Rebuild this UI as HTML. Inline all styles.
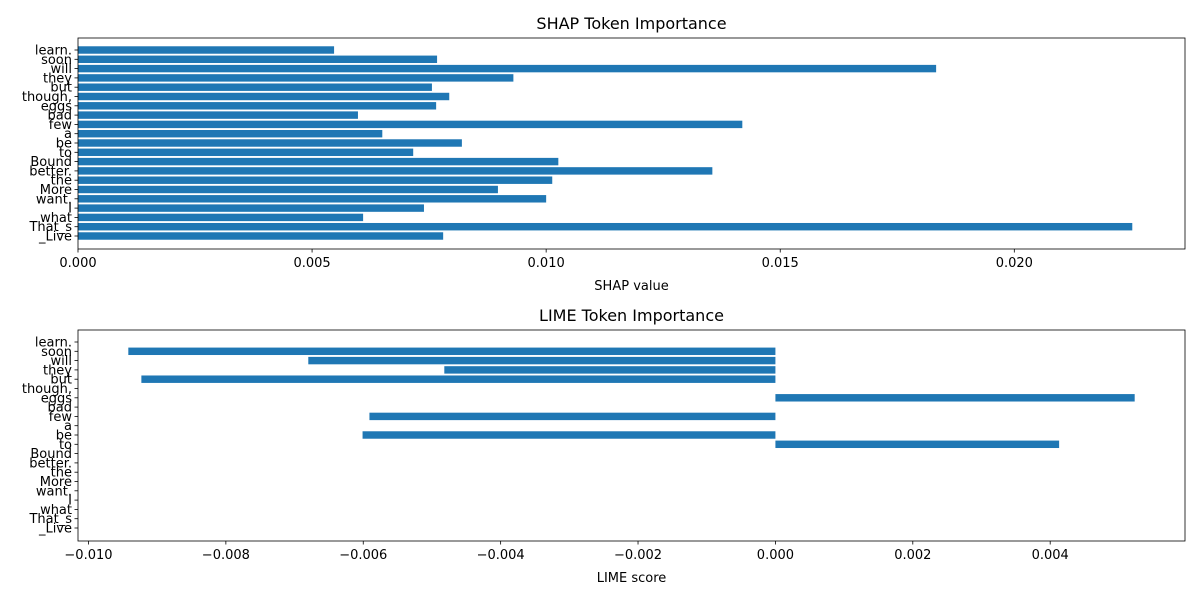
<!DOCTYPE html>
<html><head><meta charset="utf-8"><style>body{margin:0;background:#fff}svg{display:block;font-family:"DejaVu Sans","Liberation Sans",sans-serif}</style></head>
<body>
<svg id="c" width="1200" height="600"></svg>
<script>
const tokens=["learn.","soon","will","they","but","though,","eggs","bad","few","a","be","to","Bound","better.","the","More","want.","I","what","That_s","_Live"];
const shapValues=[0.00547,0.00767,0.01833,0.0093,0.00756,0.00793,0.00765,0.00598,0.01419,0.0065,0.0082,0.00716,0.01026,0.01355,0.01013,0.00897,0.0100,0.00739,0.00609,0.02252,0.0078];
const limeValues=[0,-0.00942,-0.0068,-0.00482,-0.00923,0,0.00523,0,-0.00591,0,-0.00601,0.00413,0,0,0,0,0,0,0,0,0];
const shapTicks=[0,0.005,0.010,0.015,0.020];
const shapTickLabels=["0.000","0.005","0.010","0.015","0.020"];
const limeTicks=[-0.010,-0.008,-0.006,-0.004,-0.002,0,0.002,0.004];
const limeTickLabels=["−0.010","−0.008","−0.006","−0.004","−0.002","0.000","0.002","0.004"];
const svg=document.getElementById('c');const NS="http://www.w3.org/2000/svg";
function mk(t,a,p){const e=document.createElementNS(NS,t);for(const k in a)e.setAttribute(k,a[k]);(p||svg).appendChild(e);return e;}
function panel(name,top,vals,ticks,tlabels,title,xlabel){
 const L=78,R=1185,T=top,B=top+211;
 const g=mk('g',{});
 let mn=Math.min(0,...vals),mx=Math.max(0,...vals);const m=(mx-mn)*0.05;
 if(mn<0)mn-=m;
 mx+=m;
 const x=v=>L+(v-mn)/(mx-mn)*(R-L);
 const n=tokens.length;const step=(B-T-25)/(n-1);const y=i=>T+12+i*step;const bw=step*0.8;
 vals.forEach((v,i)=>{if(v===0)return;const r=mk('rect',{x:Math.min(x(0),x(v)),y:y(i)-bw/2,width:Math.abs(x(v)-x(0)),height:bw,fill:'#1f77b4'},g);
  });
 const f=mk('rect',{x:L,y:T,width:R-L,height:B-T,fill:'none',stroke:'#000','stroke-width':0.8},g);
 
 tokens.forEach((t,i)=>{mk('line',{x1:L-3.5,x2:L,y1:y(i),y2:y(i),stroke:'#000','stroke-width':0.8},g);
  const tx=mk('text',{x:L-6,y:y(i)+4.5,'text-anchor':'end','font-size':13},g);tx.textContent=t;
  });
 ticks.forEach((v,i)=>{mk('line',{x1:x(v),x2:x(v),y1:B,y2:B+3.5,stroke:'#000','stroke-width':0.8},g);
  const tx=mk('text',{x:x(v),y:B+18,'text-anchor':'middle','font-size':13},g);tx.textContent=tlabels[i];
  });
 const ti=mk('text',{x:(L+R)/2,y:T-9,'text-anchor':'middle','font-size':16},g);ti.textContent=title;
 
 const xl=mk('text',{x:(L+R)/2,y:B+41,'text-anchor':'middle','font-size':13},g);xl.textContent=xlabel;
 
}
panel('shap',38,shapValues,shapTicks,shapTickLabels,'SHAP Token Importance','SHAP value');
panel('lime',330,limeValues,limeTicks,limeTickLabels,'LIME Token Importance','LIME score');
</script>
</body></html>
